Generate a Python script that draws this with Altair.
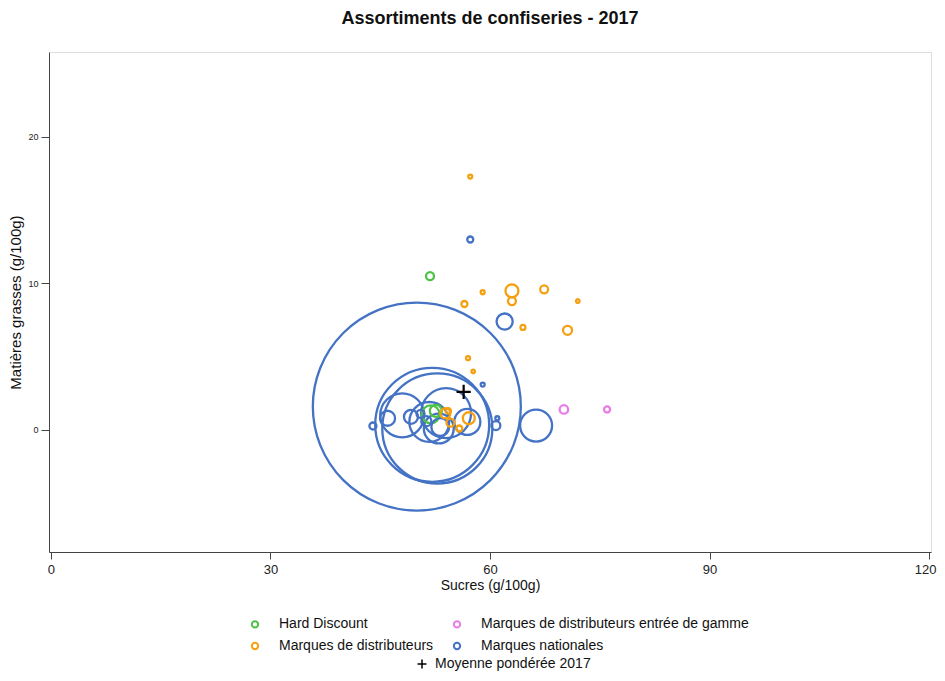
import altair as alt
import pandas as pd

# ---------------- data ----------------
categories = ["Hard Discount",
              "Marques de distributeurs",
              "Marques de distributeurs entrée de gamme",
              "Marques nationales"]
palette = ["#4DC247", "#F5A011", "#E87DE8", "#4472C4"]

# Marques nationales
mn_sucres = [50.0, 52.1, 52.8, 54.0, 48.0, 51.7, 53.0, 56.9, 66.3, 46.0, 49.2,
             44.0, 60.8, 61.0, 57.3, 62.0, 59.0, 53.2, 51.3, 50.5]
mn_mg = [1.6, 0.35, 0.1, 1.15, 1.0, 0.55, 0.1, 0.55, 0.3, 0.8, 0.9,
         0.27, 0.3, 0.8, 13.0, 7.4, 3.1, 0.2, 0.6, 1.1]
mn_vol = [30.0, 9.0, 8.4, 1.73, 1.34, 1.1, 0.62, 0.47, 0.71, 0.156, 0.136,
          0.034, 0.056, 0.011, 0.025, 0.18, 0.011, 0.22, 0.07, 0.044]

# Hard Discount
hd_sucres = [51.8, 51.9, 52.6]
hd_mg = [10.5, 1.07, 1.3]
hd_vol = [0.044, 0.22, 0.10]

# Marques de distributeurs
mdd_sucres = [57.3, 63.0, 63.0, 59.0, 56.5, 67.4, 72.0, 64.5, 70.6, 57.0,
              57.7, 53.9, 57.1, 54.6, 55.8, 54.3]
mdd_mg = [17.3, 9.5, 8.8, 9.4, 8.6, 9.6, 8.8, 7.0, 6.8, 4.9,
          4.0, 1.14, 0.8, 0.5, 0.1, 1.3]
mdd_vol = [0.011, 0.117, 0.044, 0.011, 0.025, 0.044, 0.009, 0.017, 0.056, 0.011,
           0.009, 0.07, 0.10, 0.044, 0.025, 0.02]

# Marques de distributeurs entrée de gamme
edg_sucres = [70.1, 76.0]
edg_mg = [1.4, 1.4]
edg_vol = [0.05, 0.025]

# Moyenne pondérée 2017
moy_sucres = [56.4]
moy_mg = [2.6]
moy_label = ["Moyenne pondérée 2017"]

x_ticks = [0, 30, 60, 90, 120]
y_ticks = [0, 10, 20]

# ---------------- table ----------------
rows = []
for cat, xs, ys, vs in [
    ("Marques nationales", mn_sucres, mn_mg, mn_vol),
    ("Hard Discount", hd_sucres, hd_mg, hd_vol),
    ("Marques de distributeurs", mdd_sucres, mdd_mg, mdd_vol),
    ("Marques de distributeurs entrée de gamme", edg_sucres, edg_mg, edg_vol),
]:
    for x, y, v in zip(xs, ys, vs):
        rows.append({"Catégorie": cat, "Sucres": x, "MG": y, "Volume": v})
df = pd.DataFrame(rows).sort_values("Volume", ascending=False).reset_index(drop=True)
df["rang"] = range(len(df))

moy = pd.DataFrame({"Sucres": moy_sucres, "MG": moy_mg, "lbl": moy_label})

FONT = "Liberation Sans, Arial, Helvetica, sans-serif"

xscale = alt.Scale(domain=[-0.27, 120.27], nice=False, zero=False)
yscale = alt.Scale(domain=[-8.33, 25.8], nice=False, zero=False)

xaxis = alt.Axis(values=x_ticks, title="Sucres (g/100g)", grid=False,
                 labelFontSize=13, titleFontSize=14, tickSize=7, labelPadding=4,
                 titlePadding=2, titleFontWeight="normal", labelFont=FONT,
                 titleFont=FONT, domainColor="#444", tickColor="#444",
                 labelColor="#222", titleColor="#111",
                 labelAlign={"expr": "datum.value >= 120 ? 'right' : 'center'"},
                 labelOffset={"expr": "datum.value >= 120 ? 7 : 0"})
yaxis = alt.Axis(values=y_ticks, title="Matières grasses (g/100g)", grid=False,
                 labelFontSize=9, titleFontSize=15, tickSize=8, labelPadding=3,
                 titlePadding=4, titleFontWeight="normal", labelFont=FONT,
                 titleFont=FONT, domainColor="#444", tickColor="#444",
                 labelColor="#222", titleColor="#111")

bubbles = alt.Chart(df).mark_point(filled=False, strokeWidth=2.3, opacity=1).encode(
    x=alt.X("Sucres:Q", scale=xscale, axis=xaxis),
    y=alt.Y("MG:Q", scale=yscale, axis=yaxis),
    color=alt.Color("Catégorie:N",
                    scale=alt.Scale(domain=categories, range=palette),
                    legend=alt.Legend(title=None, orient="none", legendX=199,
                                      legendY=565, columns=2, symbolType="circle",
                                      symbolSize=40, symbolStrokeWidth=2,
                                      labelFontSize=14, labelFont=FONT,
                                      labelColor="#111", labelOffset=17,
                                      columnPadding=15, rowPadding=6,
                                      padding=0, labelLimit=400)),
    size=alt.Size("Volume:Q", scale=alt.Scale(domain=[0, 30], range=[0, 43264]),
                  legend=None),
    order=alt.Order("rang:Q"),
)

cross = alt.Chart(moy).mark_point(filled=False, strokeWidth=2.2, color="black",
                                  size=200, opacity=1).encode(
    x=alt.X("Sucres:Q", scale=xscale),
    y=alt.Y("MG:Q", scale=yscale),
    shape=alt.Shape("lbl:N",
                    scale=alt.Scale(domain=moy_label,
                                    range=["M-1,0L1,0M0,-1L0,1"]),
                    legend=alt.Legend(title=None, orient="none", legendX=366,
                                      legendY=605, symbolSize=80,
                                      symbolStrokeColor="black",
                                      symbolStrokeWidth=1.5,
                                      labelFontSize=14, labelFont=FONT,
                                      labelColor="#111", labelOffset=6,
                                      padding=0, labelLimit=400)),
)

chart = alt.layer(bubbles, cross).resolve_legend(color="independent", shape="independent").properties(
    width=882,
    height=500,
    title=alt.Title("Assortiments de confiseries - 2017", fontSize=18,
                    font=FONT, fontWeight="bold", anchor="middle", offset=24,
                    color="#111"),
    autosize=alt.AutoSizeParams(type="none"),
    padding={"left": 41, "top": 44, "right": 6, "bottom": 121},
).configure_view(stroke="#555", strokeWidth=1).configure(background="white")

chart.save("out.html", embed_options={"renderer": "svg", "actions": False})
